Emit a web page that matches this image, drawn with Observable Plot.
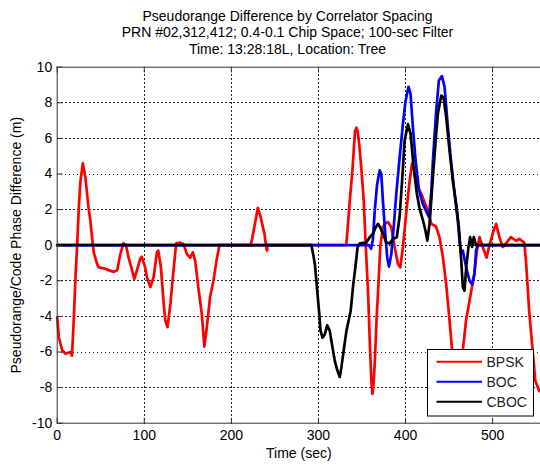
<!DOCTYPE html>
<html><head><meta charset="utf-8">
<script src="https://cdn.jsdelivr.net/npm/d3@7"></script>
<script src="https://cdn.jsdelivr.net/npm/@observablehq/plot@0.6"></script>
<style>
html,body{margin:0;padding:0;background:#fff;}
body{font-family:"Liberation Sans",Arial,Helvetica,sans-serif;width:540px;height:468px;overflow:hidden;}
#title{height:58px;box-sizing:border-box;padding-top:7.5px;padding-left:35px;text-align:center;font-size:14px;line-height:16.6px;color:#000;white-space:nowrap;}
#chart svg{display:block;}
</style></head>
<body>
<div id="title"></div>
<div id="chart"></div>
<script>
const titleLines = [
  "Pseudorange Difference by Correlator Spacing",
  "PRN #02,312,412; 0.4-0.1 Chip Space; 100-sec Filter",
  "Time: 13:28:18L, Location: Tree"
];
const xLabel = "Time (sec)";
const yLabel = "Pseudorange/Code Phase Difference (m)";
const xTicks = [0, 100, 200, 300, 400, 500];
const yTicks = [-10, -8, -6, -4, -2, 0, 2, 4, 6, 8, 10];
const seriesNames = ["BPSK", "BOC", "CBOC"];
const seriesColors = ["#ff0000", "#0000ff", "#000000"];

const bpskTime = [0,2,5.7,9.5,15,17,19,21,23,25,26.7,29.4,32.4,36,38,40,42,45.8,47.7,53.4,59,65,69,72.5,76,79,82,86,88.5,91.6,95.4,97,101,103,107,110.7,114.5,116,119,122,124,126.7,130,133.6,136.6,141,145,149,152.7,155.7,158.4,162,166,169,171.8,175.6,179.4,183,186,187,
  222,224,227.8,230.4,232.7,235.4,238,240.3,241,241.5,
  332,336,339,342,343.6,345,346.8,349.4,352,354.4,357,359,360.8,362,363,364.6,367,368.4,371,374,376,380,383.7,387.5,391.3,394,397,401,404.7,407.5,411,414,418,422,425.7,429.6,435,439,443,446.7,450.5,453.5,457,459.5,462,465.8,469.6,475,479,482,485,488.7,493,497,501,504,507.8,511.6,515.4,521,526.9,530.7,536.4,538.3,542,546,549,553.6];
const bpskValue = [-4.05,-5.2,-5.9,-6.1,-6.0,-6.2,-4.2,-1.8,0.1,2.3,3.6,4.6,3.8,2.1,1.4,0.45,-0.4,-1.05,-1.25,-1.3,-1.4,-1.5,-1.4,-0.5,0.1,0,-0.7,-1.4,-1.9,-1.4,-0.75,-0.65,-1.25,-1.8,-2.35,-1.8,-0.4,-0.3,-1.2,-3.1,-4.2,-4.6,-3.3,-1.4,0.1,0.15,0.05,-0.5,-0.7,-0.4,-0.85,-2.35,-3.85,-5.7,-4.6,-2.9,-2.0,-0.85,-0.1,0,
  0,0.4,1.4,2.1,1.75,1.2,0.65,-0.2,-0.3,0,
  0,2.5,4.2,6.4,6.6,6.4,5.7,4.2,2.5,-0.1,-2.7,-5.5,-7.6,-8.35,-8.0,-6.7,-3.9,-2.7,-0.1,1.0,1.2,1.3,1.0,-0.1,-1.05,-1.25,-0.1,1.9,3.6,4.6,4.0,3.3,2.9,2.4,1.9,1.2,1.05,0.45,-0.7,-2.2,-4.2,-5.9,-7.5,-8.3,-7.5,-5.9,-4.2,-2.7,-1.6,-0.3,0.45,-0.1,-0.7,0.1,0.8,1.2,0.45,-0.1,0.1,0.45,0.25,0.35,0.15,-0.85,-3.7,-5.9,-7.6,-8.2];

const bocTime = [0,358,360.5,362.5,364.6,367.3,370.3,372.2,374,376.8,379,381,383.7,386.4,389.4,393.2,397,400,403.5,405.8,408.5,411.5,415.4,420,423.8,426.8,429.5,431.5,435.3,438.3,441.8,444.8,448.7,452.5,456.3,460,462,464,465.8,469.7,473.5,476.5,479.2,481,483,555];
const bocValue = [0,0,-0.2,0.3,1.9,3.4,4.2,4.0,2.5,0.6,-0.7,-1.2,-0.5,1.0,2.9,4.9,6.8,8.1,8.9,8.5,6.6,4.8,3.1,2.3,1.9,1.6,2.9,4.8,7.6,9.25,9.5,8.9,6.6,4.6,2.9,1.4,0.25,-0.5,-0.3,-1.25,-2.0,-2.2,-1.6,-0.3,0,0];

const cbocTime = [0,292,295.9,298.6,300.9,302.4,304.7,307.3,310,313,316,318.8,321.5,324.5,326.4,329,332.2,337,340,342.5,345,347.4,355,358.9,362.7,365.7,368.4,371,374,378,381.8,385.6,390,393.2,396.3,399,402.8,405.8,409.3,413,416,420,423,425,427.6,431.4,435.2,437.2,441,443.7,446.7,450.6,454.4,458.2,461.3,464,465.8,467.7,469.7,472.3,474.2,476.5,478.4,481,555];
const cbocValue = [0,0,-1.05,-2.55,-3.85,-4.8,-5.2,-5.0,-4.5,-4.8,-5.7,-6.5,-7.0,-7.4,-6.85,-5.9,-4.8,-3.7,-2.2,-1.2,-0.1,0.1,0.15,0.45,0.65,1.0,1.2,1.0,0.65,0.15,0.1,0.35,0.45,1.6,3.8,5.9,6.8,6.25,4.4,2.9,2.1,1.4,0.8,0.25,1.2,3.8,6.25,7.4,8.4,8.3,7.2,5.3,3.6,2.3,1.0,-0.85,-2.35,-2.55,-1.25,-0.1,0.45,-0.1,0.45,0,0];

document.getElementById("title").innerHTML = titleLines.map(s => `<div>${s}</div>`).join("");

const toRows = (ts, vs) => ts.map((t, i) => ({t, v: vs[i]}));
const series = [toRows(bpskTime, bpskValue), toRows(bocTime, bocValue), toRows(cbocTime, cbocValue)];

const W = 540, H = 410, mL = 56.7, mR = 0, mT = 8.7, mB = 45.3;
const plotW = W - mL - mR, plotH = H - mT - mB;
const xDomain = [0, 555], yDomain = [-10, 10];
const axisColor = "#333";
const font = '"Liberation Sans", Arial, Helvetica, sans-serif';

// grid and tick segments built from the tick arrays (tick length 5px expressed in data units)
const tx = 5 * (xDomain[1] - xDomain[0]) / plotW;
const ty = 5 * (yDomain[1] - yDomain[0]) / plotH;
const gridRows = [
  ...xTicks.filter(d => d > 0).flatMap(d => [{t: d, v: yDomain[0], k: "x" + d}, {t: d, v: yDomain[1], k: "x" + d}]),
  ...yTicks.filter(d => d > -10 && d < 10).flatMap(d => [{t: xDomain[0], v: d, k: "y" + d}, {t: xDomain[1], v: d, k: "y" + d}])
];
const tickRows = [
  ...xTicks.flatMap(d => [{t: d, v: yDomain[0], k: "b" + d}, {t: d, v: yDomain[0] + ty, k: "b" + d}]),
  ...xTicks.flatMap(d => [{t: d, v: yDomain[1], k: "t" + d}, {t: d, v: yDomain[1] - ty, k: "t" + d}]),
  ...yTicks.flatMap(d => [{t: xDomain[0], v: d, k: "l" + d}, {t: xDomain[0] + tx, v: d, k: "l" + d}])
];

const svg = Plot.plot({
  width: W, height: H,
  marginLeft: mL, marginRight: mR, marginTop: mT, marginBottom: mB,
  x: {domain: xDomain},
  y: {domain: yDomain},
  style: {fontFamily: font, fontSize: "14px"},
  marks: [
    Plot.line(gridRows, {x: "t", y: "v", z: "k", stroke: "#222", strokeWidth: 1, strokeDasharray: "1,3", shapeRendering: "crispEdges"}),
    ...series.map((rows, i) => Plot.line(rows, {x: "t", y: "v", stroke: seriesColors[i], strokeWidth: 2.7, strokeLinejoin: "round"})),
    Plot.line(tickRows, {x: "t", y: "v", z: "k", stroke: axisColor, strokeWidth: 1}),
    Plot.ruleY([-10, 10], {y: d => d, stroke: axisColor}),
    Plot.ruleX([0], {x: d => d, stroke: axisColor}),
    Plot.axisX({ticks: xTicks, tickSize: 0, tickPadding: 7, label: null, tickFormat: d => String(d), fontSize: 14, fill: "#000"}),
    Plot.axisY({ticks: yTicks, tickSize: 0, tickPadding: 5, label: null, tickFormat: d => String(d), fontSize: 14, fill: "#000"}),
    Plot.text([yLabel], {text: d => d, frameAnchor: "left", rotate: -90, dx: -46, lineAnchor: "top", textAnchor: "middle", fontSize: 14, fill: "#000"}),
    Plot.text([xLabel], {text: d => d, frameAnchor: "bottom", dy: 30.3, lineAnchor: "middle", textAnchor: "middle", fontSize: 14, fill: "#000"})
  ]
});
document.getElementById("chart").appendChild(svg);

// Legend (opaque box over the lines, like the original)
const svgTop = 58;
const lg = d3.select(svg).append("g").attr("font-family", font).attr("font-size", 14).attr("text-anchor", "start");
lg.append("rect").attr("x", 427.5).attr("y", 349.5 - svgTop).attr("width", 106).attr("height", 66.5)
  .attr("fill", "#fff").attr("stroke", "#000").attr("stroke-width", 1);
seriesNames.forEach((name, i) => {
  const y = 361.7 - svgTop + i * 20;
  lg.append("line").attr("x1", 436.5).attr("x2", 482).attr("y1", y).attr("y2", y)
    .attr("stroke", seriesColors[i]).attr("stroke-width", 2);
  lg.append("text").attr("x", 486.5).attr("y", y + 5.3).attr("text-anchor", "start").attr("fill", "#222").text(name);
});
</script>
</body></html>
